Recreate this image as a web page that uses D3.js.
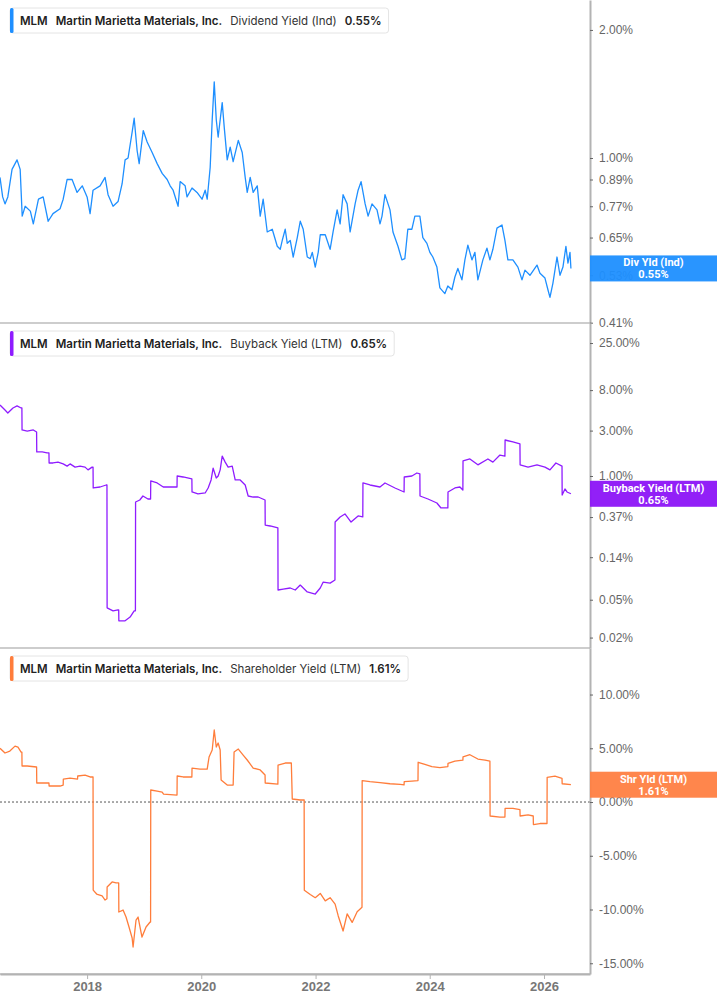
<!DOCTYPE html>
<html>
<head>
<meta charset="utf-8">
<script src="https://cdn.jsdelivr.net/npm/d3@7"></script>
<style>
body { margin: 0; background: #fff; }
svg { display: block; font-family: Roboto, 'Liberation Sans', sans-serif; }
.legend text { font-family: Inter, 'Noto Sans', sans-serif; }
</style>
</head>
<body>
<div id="chart"></div>
<script>

var ticker = 'MLM'
var company = 'Martin Marietta Materials, Inc.'
var yearTicks = [2018, 2020, 2022, 2024, 2026]

var divTicks = [0.41, 0.53, 0.65, 0.77, 0.89, 1.00, 2.00]
var buybackTicks = [0.02, 0.05, 0.14, 0.37, 1.00, 3.00, 8.00, 25.00]
var shrTicks = [-15, -10, -5, 0, 5, 10]

var divYield = [
	["2016-06-23",0.90],["2016-07-10",0.81],["2016-07-25",0.78],["2016-08-12",0.81],["2016-09-08",0.94],["2016-10-10",0.99],["2016-10-30",0.94],["2016-11-12",0.73],["2016-12-01",0.77],["2017-01-03",0.75],["2017-01-22",0.70],["2017-02-24",0.80],["2017-03-26",0.81],["2017-04-27",0.71],["2017-05-28",0.74],["2017-07-12",0.76],["2017-08-01",0.80],["2017-08-26",0.89],["2017-09-27",0.89],["2017-10-29",0.83],["2017-12-01",0.86],
	["2018-01-01",0.81],["2018-01-20",0.74],["2018-02-08",0.84],["2018-03-25",0.86],["2018-04-26",0.90],["2018-05-15",0.82],["2018-06-16",0.77],["2018-07-18",0.79],["2018-08-13",0.87],["2018-09-01",0.99],["2018-09-20",1.00],["2018-10-16",1.15],["2018-10-29",1.24],["2018-11-17",1.04],["2018-11-30",0.97],["2018-12-26",1.16],
	["2019-01-20",1.09],["2019-02-21",1.03],["2019-03-25",0.97],["2019-04-26",0.92],["2019-05-28",0.89],["2019-06-16",0.86],["2019-07-05",0.84],["2019-08-06",0.77],["2019-08-19",0.88],["2019-09-20",0.86],["2019-10-02",0.81],["2019-11-03",0.85],["2019-12-05",0.83],
	["2020-01-06",0.80],["2020-01-26",0.84],["2020-02-08",0.80],["2020-02-27",0.95],["2020-03-11",1.23],["2020-03-24",1.51],["2020-04-06",1.23],["2020-04-18",1.12],["2020-05-14",1.35],["2020-05-27",1.18],["2020-06-15",0.99],["2020-07-04",1.06],["2020-07-23",0.98],["2020-08-25",1.10],["2020-09-19",1.03],["2020-10-08",0.90],["2020-10-21",0.83],["2020-11-09",0.90],["2020-11-28",0.83],["2020-12-24",0.86],
	["2021-01-12",0.73],["2021-01-31",0.80],["2021-02-26",0.67],["2021-03-30",0.68],["2021-05-01",0.62],["2021-05-20",0.61],["2021-06-02",0.64],["2021-06-21",0.68],["2021-07-04",0.63],["2021-07-23",0.64],["2021-08-11",0.585],["2021-09-06",0.65],["2021-09-25",0.71],["2021-10-14",0.68],["2021-11-09",0.585],["2021-11-28",0.58],["2021-12-11",0.60],["2021-12-30",0.554],
	["2022-01-18",0.60],["2022-01-31",0.66],["2022-03-04",0.66],["2022-04-04",0.61],["2022-04-23",0.67],["2022-05-19",0.755],["2022-06-07",0.70],["2022-06-26",0.82],["2022-07-22",0.78],["2022-08-10",0.67],["2022-09-11",0.78],["2022-09-30",0.84],["2022-10-19",0.88],["2022-11-14",0.78],["2022-12-03",0.73],["2022-12-28",0.78],
	["2023-01-29",0.755],["2023-02-17",0.70],["2023-03-02",0.73],["2023-03-21",0.82],["2023-04-22",0.755],["2023-05-11",0.67],["2023-06-12",0.62],["2023-07-07",0.576],["2023-07-26",0.58],["2023-08-14",0.68],["2023-09-09",0.68],["2023-09-28",0.73],["2023-10-30",0.73],["2023-11-18",0.65],["2023-12-14",0.63],
	["2024-01-02",0.60],["2024-01-21",0.585],["2024-02-16",0.554],["2024-03-06",0.495],["2024-04-07",0.48],["2024-04-26",0.50],["2024-05-22",0.49],["2024-06-10",0.525],["2024-06-29",0.55],["2024-07-25",0.517],["2024-08-13",0.576],["2024-09-01",0.624],["2024-09-27",0.576],["2024-10-16",0.60],["2024-11-04",0.517],["2024-12-06",0.576],
	["2025-01-01",0.614],["2025-01-20",0.576],["2025-02-08",0.61],["2025-03-06",0.684],["2025-04-07",0.696],["2025-04-26",0.64],["2025-05-15",0.576],["2025-06-16",0.576],["2025-07-18",0.554],["2025-08-13",0.517],["2025-09-01",0.545],["2025-10-03",0.53],["2025-11-17",0.56],["2025-12-06",0.536],
	["2026-01-07",0.522],["2026-01-26",0.49],["2026-02-08",0.47],["2026-02-27",0.508],["2026-03-25",0.585],["2026-04-13",0.53],["2026-05-02",0.554],["2026-05-21",0.62],["2026-06-03",0.566],["2026-06-16",0.60],["2026-06-22",0.55]
]

var buybackYield = [
	["2016-06-23",5.58],["2016-07-25",4.94],["2016-08-12",4.60],["2016-09-14",5.19],["2016-10-10",5.45],["2016-11-05",5.19],["2016-11-10",5.19],["2016-11-11",3.05],["2016-12-14",2.97],["2017-01-22",3.05],["2017-02-12",2.90],["2017-02-13",1.79],["2017-03-20",1.79],["2017-04-20",1.75],["2017-05-02",1.75],["2017-05-03",1.37],["2017-05-28",1.37],["2017-06-29",1.40],["2017-08-01",1.34],["2017-08-26",1.27],["2017-09-14",1.34],["2017-10-16",1.24],["2017-11-17",1.27],["2017-12-19",1.24],
	["2018-01-07",1.16],["2018-02-02",1.24],["2018-02-08",1.24],["2018-02-09",0.748],["2018-03-25",0.766],["2018-05-03",0.804],["2018-05-08",0.804],["2018-05-09",0.0411],["2018-06-16",0.0382],["2018-07-18",0.0392],["2018-07-22",0.0392],["2018-07-23",0.0300],["2018-09-01",0.0300],["2018-10-03",0.0329],["2018-10-29",0.0382],["2018-11-06",0.0382],["2018-11-07",0.533],["2018-12-04",0.559],["2018-12-24",0.616],
	["2019-01-25",0.573],["2019-02-11",0.573],["2019-02-12",0.886],["2019-03-25",0.844],["2019-05-03",0.766],["2019-06-16",0.766],["2019-07-30",0.766],["2019-07-31",1.00],["2019-09-07",0.976],["2019-11-02",0.930],["2019-11-03",0.679],["2019-12-11",0.647],
	["2020-01-26",0.663],["2020-02-14",0.748],["2020-03-04",0.908],["2020-03-17",1.21],["2020-04-06",0.953],["2020-04-18",1.00],["2020-05-01",1.16],["2020-05-14",1.62],["2020-06-02",1.40],["2020-06-21",1.24],["2020-07-17",1.27],["2020-08-05",0.908],["2020-09-06",0.908],["2020-10-08",0.804],["2020-10-27",0.616],["2020-11-28",0.601],["2020-12-30",0.601],
	["2021-02-12",0.559],["2021-02-13",0.305],["2021-03-17",0.298],["2021-05-05",0.284],["2021-05-06",0.0633],["2021-06-08",0.0648],["2021-07-23",0.0664],["2021-08-24",0.0633],["2021-09-25",0.0713],["2021-11-09",0.0603],["2021-12-30",0.0574],
	["2022-01-31",0.0664],["2022-02-19",0.0767],["2022-04-04",0.0748],["2022-05-05",0.0805],["2022-05-06",0.328],["2022-06-07",0.371],["2022-07-08",0.399],["2022-08-16",0.328],["2022-09-30",0.380],["2022-10-30",0.371],["2022-10-31",0.844],["2022-12-15",0.804],
	["2023-02-17",0.766],["2023-03-21",0.844],["2023-05-24",0.748],["2023-07-21",0.679],["2023-07-22",0.976],["2023-09-09",1.00],["2023-10-11",1.075],["2023-10-30",1.05],["2023-10-31",0.616],["2023-12-21",0.573],
	["2024-02-16",0.520],["2024-03-13",0.461],["2024-04-26",0.461],["2024-04-27",0.679],["2024-06-10",0.748],["2024-07-12",0.766],["2024-07-31",0.712],["2024-08-01",1.44],["2024-09-14",1.51],["2024-11-04",1.31],
	["2025-01-07",1.51],["2025-02-08",1.40],["2025-03-25",1.66],["2025-04-26",1.62],["2025-04-27",2.39],["2025-06-16",2.28],["2025-07-31",2.17],["2025-08-01",1.31],["2025-09-21",1.24],["2025-11-17",1.31],
	["2026-01-07",1.24],["2026-02-08",1.16],["2026-03-18",1.37],["2026-04-26",1.27],["2026-04-27",0.631],["2026-05-15",0.730],["2026-05-28",0.679],["2026-06-22",0.65]
]

var shareholderYield = [
	["2016-06-23",5.0],["2016-07-25",4.56],["2016-08-25",4.74],["2016-09-27",5.2],["2016-10-16",5.1],["2016-11-05",4.65],["2016-11-10",4.65],["2016-11-11",3.35],["2016-12-14",3.35],["2017-02-12",3.26],["2017-02-13",1.77],["2017-04-20",1.77],["2017-05-02",1.77],["2017-05-03",1.49],["2017-07-12",1.49],["2017-08-01",1.58],["2017-08-02",2.14],["2017-09-14",2.23],["2017-11-01",2.14],["2017-11-02",2.42],["2017-12-19",2.51],
	["2018-01-20",2.33],["2018-02-08",2.33],["2018-02-09",-8.19],["2018-03-03",-8.56],["2018-04-07",-8.74],["2018-04-26",-9.12],["2018-05-08",-9.0],["2018-05-09",-7.91],["2018-06-10",-7.44],["2018-07-05",-7.53],["2018-07-22",-7.53],["2018-07-23",-10.23],["2018-08-19",-10.05],["2018-09-07",-10.70],["2018-09-26",-11.63],["2018-10-16",-12.65],["2018-10-22",-13.49],["2018-11-10",-10.98],["2018-11-23",-10.70],["2018-12-18",-12.56],
	["2019-01-13",-11.63],["2019-02-08",-11.16],["2019-02-11",-11.16],["2019-02-12",1.12],["2019-03-25",1.02],["2019-04-26",0.93],["2019-05-05",0.74],["2019-07-30",0.65],["2019-07-31",2.42],["2019-09-07",2.33],["2019-11-02",2.33],["2019-11-03",3.16],["2019-12-24",3.07],
	["2020-02-08",3.07],["2020-02-20",4.19],["2020-03-11",4.84],["2020-03-24",6.70],["2020-04-06",5.12],["2020-04-18",5.49],["2020-05-01",4.84],["2020-05-07",2.05],["2020-06-15",1.58],["2020-07-23",1.58],["2020-07-29",4.65],["2020-08-25",4.93],["2020-09-25",4.37],["2020-10-21",3.91],["2020-11-28",3.16],
	["2021-01-12",2.98],["2021-02-12",2.51],["2021-02-13",1.77],["2021-05-05",1.67],["2021-05-06",3.44],["2021-06-21",3.63],["2021-07-30",3.63],["2021-08-05",0.28],["2021-09-25",0.19],["2021-10-20",0.2],["2021-10-21",-8.2],["2021-11-28",-8.6],["2021-12-30",-8.9],
	["2022-01-31",-8.5],["2022-03-04",-9.2],["2022-04-04",-8.9],["2022-05-06",-9.5],["2022-05-26",-10.6],["2022-06-26",-12.0],["2022-07-22",-10.4],["2022-08-23",-11.2],["2022-09-24",-10.2],["2022-10-25",-9.8],["2022-10-26",2.0],["2022-12-15",1.9],
	["2023-02-17",1.8],["2023-04-22",1.7],["2023-06-26",1.65],["2023-07-21",1.6],["2023-07-22",1.9],["2023-09-09",1.95],["2023-10-18",2.0],["2023-10-19",3.7],["2023-12-01",3.5],
	["2024-01-15",3.3],["2024-03-06",3.2],["2024-04-26",3.3],["2024-04-27",3.6],["2024-06-10",3.8],["2024-07-31",3.9],["2024-08-01",4.2],["2024-09-14",4.4],["2024-11-04",4.0],["2024-12-20",3.9],
	["2025-01-20",3.8],["2025-01-21",-1.3],["2025-03-25",-1.4],["2025-04-26",-1.4],["2025-04-27",-0.6],["2025-06-16",-0.6],["2025-07-31",-0.7],["2025-08-01",-1.3],["2025-09-21",-1.2],["2025-10-24",-1.3],["2025-10-25",-2.1],["2025-12-06",-2.0],
	["2026-01-20",-2.0],["2026-01-21",2.3],["2026-03-12",2.4],["2026-04-26",2.2],["2026-04-27",1.7],["2026-06-22",1.61]
]

var parseDate = d3.timeParse('%Y-%m-%d')
var pct = function(d) { return d.toFixed(2) + '%' }

var width = 717
var height = 1005
var plotRight = 590
var axisBottomY = 974

var xScale = d3.scaleTime()
	.domain([new Date(2016, 5, 23), new Date(2026, 9, 22)])
	.range([0, plotRight])

var panels = [
	{
		top: 0, bottom: 323,
		yScale: d3.scaleLog().domain([0.4093, 2.352]).range([323, 0]),
		ticks: divTicks, data: divYield,
		color: '#1e8fff', tagColor: '#1e8fff',
		metric: 'Dividend Yield (Ind)', tag: 'Div Yld (Ind)'
	},
	{
		top: 323, bottom: 648,
		yScale: d3.scaleLog().domain([0.01554, 40.6]).range([648, 323]),
		ticks: buybackTicks, data: buybackYield,
		color: '#8f1cff', tagColor: '#8c14f7',
		metric: 'Buyback Yield (LTM)', tag: 'Buyback Yield (LTM)'
	},
	{
		top: 648, bottom: 974,
		yScale: d3.scaleLinear().domain([-16.0, 14.33]).range([974, 648]),
		ticks: shrTicks, data: shareholderYield,
		color: '#ff7d3b', tagColor: '#ff8042',
		metric: 'Shareholder Yield (LTM)', tag: 'Shr Yld (LTM)', zeroLine: true
	}
]

var svg = d3.select('#chart').append('svg')
	.attr('width', width)
	.attr('height', height)

svg.append('rect').attr('width', width).attr('height', height).attr('fill', '#fff')

panels.forEach(function(p) {
	var y = p.yScale
	var last = p.data[p.data.length - 1]

	// zero reference
	if (p.zeroLine) {
		svg.append('line')
			.attr('x1', 0).attr('x2', plotRight)
			.attr('y1', y(0)).attr('y2', y(0))
			.attr('stroke', '#555')
			.attr('stroke-width', 1)
			.attr('stroke-dasharray', '2,2')
	}

	// panel bottom border
	svg.append('line')
		.attr('x1', 0).attr('x2', plotRight)
		.attr('y1', p.bottom).attr('y2', p.bottom)
		.attr('stroke', '#bdbdbd')
		.attr('stroke-width', 1.5)

	var line = d3.line()
		.x(function(d) { return xScale(parseDate(d[0])) })
		.y(function(d) { return y(d[1]) })

	svg.append('path')
		.datum(p.data)
		.attr('fill', 'none')
		.attr('stroke', p.color)
		.attr('stroke-width', 1.3)
		.attr('stroke-linejoin', 'round')
		.attr('d', line)

	// right axis
	var yAxis = d3.axisRight(y)
		.tickValues(p.ticks)
		.tickSize(3)
		.tickSizeOuter(0)
		.tickPadding(6)
		.tickFormat(pct)
	var g = svg.append('g')
		.attr('transform', 'translate(' + plotRight + ',0)')
		.call(yAxis)
	g.select('.domain').attr('stroke', '#b3b3b3').attr('stroke-width', 2)
	g.selectAll('.tick line').attr('stroke', '#666')
	g.selectAll('.tick text')
		.attr('fill', '#666')
		.style('font-size', '12px')

	// last value tag
	var cy = y(last[1])
	var tag = svg.append('g')
	tag.append('rect')
		.attr('x', plotRight).attr('y', cy - 13)
		.attr('width', width - plotRight).attr('height', 26)
		.attr('fill', p.tagColor)
		.attr('fill-opacity', 0.95)
	tag.append('text')
		.attr('x', (plotRight + width) / 2).attr('y', cy - 2)
		.attr('text-anchor', 'middle')
		.attr('fill', '#fff')
		.style('font-size', '11px').style('font-weight', 'bold')
		.text(p.tag)
	tag.append('text')
		.attr('x', (plotRight + width) / 2).attr('y', cy + 10)
		.attr('text-anchor', 'middle')
		.attr('fill', '#fff')
		.style('font-size', '11px').style('font-weight', 'bold')
		.text(pct(last[1]))

	// legend
	var lg = svg.append('g')
		.attr('class', 'legend')
		.attr('transform', 'translate(10,' + (p.top + 8) + ')')
	var box = lg.append('rect')
		.attr('x', 0).attr('y', 0).attr('height', 25).attr('rx', 3)
		.attr('fill', '#fff').attr('stroke', '#e4e4e4')
	lg.append('rect')
		.attr('x', 0).attr('y', 0).attr('width', 3.5).attr('height', 25).attr('rx', 1.5)
		.attr('fill', p.color)
	var txt = lg.append('text')
		.attr('x', 10).attr('y', 17)
		.attr('fill', '#222')
		.style('font-size', '11.5px')
	txt.append('tspan').style('font-weight', 600).text(ticker)
	txt.append('tspan').attr('dx', 8).style('font-weight', 600).text(company)
	txt.append('tspan').attr('dx', 8).style('font-weight', 400).attr('fill', '#333').text(p.metric)
	txt.append('tspan').attr('dx', 8).style('font-weight', 600).text(pct(last[1]))
	var bb = txt.node().getBBox()
	box.attr('width', bb.x + bb.width + 7)
})

// bottom time axis
var xAxis = d3.axisBottom(xScale)
	.tickValues(yearTicks.map(function(yr) { return new Date(yr, 0, 1) }))
	.tickSize(5)
	.tickSizeOuter(0)
	.tickPadding(3)
	.tickFormat(d3.timeFormat('%Y'))
var xg = svg.append('g')
	.attr('transform', 'translate(0,' + axisBottomY + ')')
	.call(xAxis)
xg.select('.domain').attr('stroke', '#b3b3b3').attr('stroke-width', 2)
xg.selectAll('.tick line').attr('stroke', '#b3b3b3')
xg.selectAll('.tick text')
	.attr('fill', '#777')
	.style('font-size', '13px')
	.style('font-weight', 'bold')

</script>
</body>
</html>
